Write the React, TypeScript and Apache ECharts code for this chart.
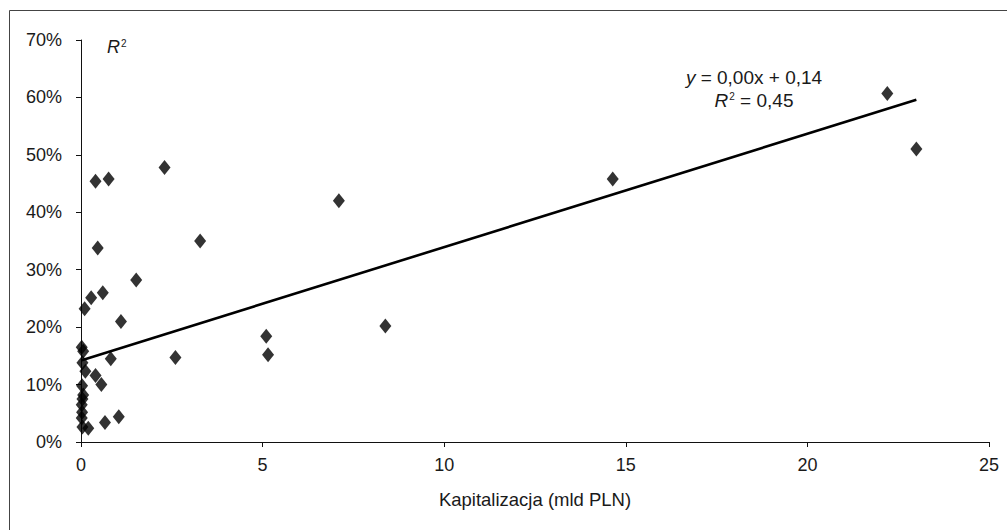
import React, { useEffect, useRef } from "react";
import * as echarts from "echarts";

// Kapitalizacja (mld PLN) vs share (%)
const points: [number, number][] = [
  [0.02, 16.5], [0.06, 15.8], [0.04, 13.8], [0.12, 12.3], [0.03, 9.8],
  [0.06, 8.2], [0.04, 7.5], [0.02, 6.5], [0.03, 5.2], [0.02, 4.2],
  [0.04, 2.6], [0.2, 2.4], [0.1, 23.2], [0.28, 25.1], [0.4, 45.4],
  [0.46, 33.8], [0.6, 26.0], [0.76, 45.8], [0.4, 11.6], [0.56, 10.0],
  [0.82, 14.5], [0.66, 3.4], [1.04, 4.4], [1.1, 21.0], [1.52, 28.2],
  [2.3, 47.8], [2.6, 14.7], [3.28, 35.0], [5.1, 18.4], [5.15, 15.2],
  [7.1, 42.0], [8.38, 20.2], [14.64, 45.8], [22.2, 60.7], [23.0, 51.0],
];

// Linear trend line endpoints
const trendLine: [number, number][] = [
  [0, 14.2],
  [23, 59.6],
];

const xTicks = { min: 0, max: 25, interval: 5 };
const yTicks = { min: 0, max: 70, interval: 10 };

const xAxisTitle = "Kapitalizacja (mld PLN)";
const equationRest = " = 0,00x + 0,14";
const r2Value = " = 0,45";

const FONT = "'Liberation Sans', Arial, sans-serif";
const TXT = "#1a1a1a";

export default function App() {
  const ref = useRef<HTMLDivElement>(null);
  useEffect(() => {
    if (!ref.current) return;
    const chart = echarts.init(ref.current, null, { renderer: "svg" });
    chart.setOption({
      animation: false,
      backgroundColor: "#fff",
      grid: { left: 81, right: 18, top: 40, bottom: 88 },
      xAxis: {
        type: "value",
        min: xTicks.min,
        max: xTicks.max,
        interval: xTicks.interval,
        name: xAxisTitle,
        nameLocation: "middle",
        nameGap: 48,
        nameTextStyle: { fontFamily: FONT, fontSize: 18.5, color: TXT },
        axisLine: { show: true, lineStyle: { color: "#111", width: 1 } },
        axisTick: { show: true, inside: false, length: 5, lineStyle: { color: "#111" } },
        axisLabel: { fontFamily: FONT, fontSize: 18, color: TXT, margin: 14 },
        splitLine: { show: false },
      },
      yAxis: {
        type: "value",
        min: yTicks.min,
        max: yTicks.max,
        interval: yTicks.interval,
        axisLine: { show: true, lineStyle: { color: "#111", width: 1 } },
        axisTick: { show: true, inside: false, length: 5, lineStyle: { color: "#111" } },
        axisLabel: {
          fontFamily: FONT,
          fontSize: 18,
          color: TXT,
          margin: 19,
          formatter: "{value}%",
        },
        splitLine: { show: false },
      },
      graphic: [
        {
          type: "rect",
          silent: true,
          shape: { x: 9.5, y: 10.5, width: 1010, height: 540 },
          style: { fill: "none", stroke: "#444", lineWidth: 1 },
        },
        {
          type: "text",
          left: 107,
          top: 36,
          style: {
            text: "{i|R}{s|2}",
            fontFamily: FONT,
            rich: {
              i: { fontFamily: FONT, fontSize: 18, fontStyle: "italic", fill: TXT, lineHeight: 20, verticalAlign: "bottom" },
              s: { fontFamily: FONT, fontSize: 10, fill: TXT, lineHeight: 20, verticalAlign: "top", padding: [2, 0, 0, 1] },
            },
          },
        },
        {
          type: "text",
          x: 754,
          y: 64,
          style: {
            text: "{i|y}{n|" + equationRest + "}\n{i|R}{s|2}{n|" + r2Value + "}",
            align: "center",
            fontFamily: FONT,
            rich: {
              i: { fontFamily: FONT, fontSize: 19, fontStyle: "italic", fill: TXT, lineHeight: 23, verticalAlign: "bottom" },
              n: { fontFamily: FONT, fontSize: 19, fill: TXT, lineHeight: 23, verticalAlign: "bottom" },
              s: { fontFamily: FONT, fontSize: 10, fill: TXT, lineHeight: 23, verticalAlign: "top", padding: [4, 0, 0, 1] },
            },
          },
        },
      ],
      series: [
        {
          type: "line",
          data: trendLine,
          symbol: "none",
          lineStyle: { color: "#000", width: 2.6 },
          silent: true,
          z: 1,
        },
        {
          type: "scatter",
          data: points,
          symbol: "diamond",
          symbolSize: [12, 15],
          itemStyle: { color: "#000" },
          z: 2,
        },
      ],
    });
    return () => chart.dispose();
  }, []);
  return (
    <div
      ref={ref}
      style={{ position: "fixed", left: 0, top: 0, width: 1007, height: 530 }}
    />
  );
}
